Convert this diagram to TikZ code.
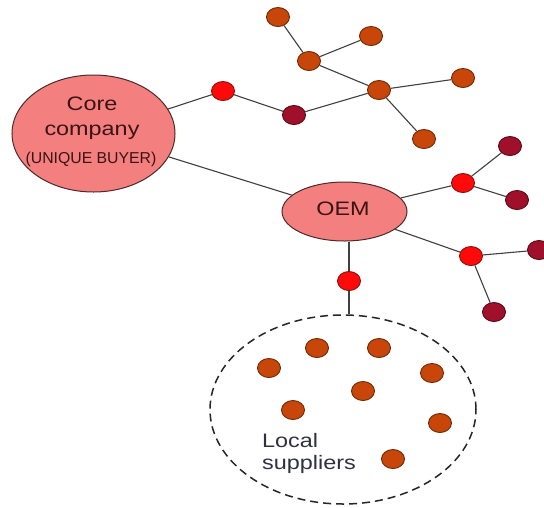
\documentclass[tikz,border=0pt]{standalone}
\usepackage{fontspec}
\setmainfont{Liberation Sans}
\newfontfamily\labfont{Liberation Sans}[FakeStretch=1.2]
\usetikzlibrary{shapes.geometric}
\definecolor{bigfill}{HTML}{F47F7F}
\definecolor{bigdraw}{HTML}{4A2A2A}
\definecolor{redfill}{HTML}{FF0A0A}
\definecolor{reddraw}{HTML}{8A1010}
\definecolor{darkfill}{HTML}{A0102A}
\definecolor{darkdraw}{HTML}{550A14}
\definecolor{orfill}{HTML}{C8460A}
\definecolor{ordraw}{HTML}{6A2A05}
\definecolor{linecol}{HTML}{404040}
\definecolor{txtcol}{HTML}{3A1414}
\definecolor{loccol}{HTML}{303040}
\tikzset{
  big/.style={ellipse, draw=bigdraw, fill=bigfill, line width=1pt, inner sep=0pt},
  dot/.style={ellipse, line width=0.9pt, inner sep=0pt, minimum width=23pt, minimum height=19pt},
  rdot/.style={dot, draw=reddraw, fill=redfill},
  ddot/.style={dot, draw=darkdraw, fill=darkfill},
  odot/.style={dot, draw=ordraw, fill=orfill},
  conn/.style={draw=linecol, line width=1.1pt},
  bigtxt/.style={font=\labfont\fontsize{19.5}{22}\selectfont, text=txtcol, inner sep=0pt},
  smalltxt/.style={font=\fontsize{15.8}{18}\selectfont, text=txtcol, inner sep=0pt},
  loctxt/.style={font=\labfont\fontsize{19.5}{22}\selectfont, text=loccol, inner sep=0pt, anchor=base west},
  group/.style={ellipse, draw=black!85, dashed, dash pattern=on 8pt off 5pt, line width=1.5pt, inner sep=0pt}
}
\begin{document}
\begin{tikzpicture}[x=1pt,y=-1pt]
\useasboundingbox (0,0) rectangle (544,507);
\fill[white] (0,0) rectangle (544,507);
% big ellipses
\node[big, minimum width=163pt, minimum height=117pt] (core) at (93.5,133.5) {};
\node[big, minimum width=125pt, minimum height=59pt] (oem) at (344.5,211.5) {};
\node[group, minimum width=266pt, minimum height=189pt] (local) at (343,409.5) {};
% texts
\node[bigtxt, anchor=base] (tcore) at (92,110) {Core};
\node[bigtxt, anchor=base] (tcomp) at (92,135) {company};
\node[smalltxt, anchor=base] (tbuyer) at (91,163) {(UNIQUE BUYER)};
\node[bigtxt, anchor=base] (toem) at (343,215) {OEM};
\node[loctxt] (tloc1) at (262,447) {Local};
\node[loctxt] (tloc2) at (262,469) {suppliers};
% top cluster
\node[rdot] (r1) at (223,91) {};
\node[ddot] (d1) at (294,115) {};
\node[odot] (h1) at (379,90) {};
\node[odot] (h2) at (309,61) {};
\node[odot] (o1) at (278,17) {};
\node[odot] (o2) at (371,36) {};
\node[odot] (o3) at (463,78) {};
\node[odot] (o4) at (424,139) {};
% right cluster
\node[rdot] (a) at (463,183) {};
\node[ddot] (da1) at (510,146) {};
\node[ddot] (da2) at (517,200) {};
\node[rdot] (b) at (471,256) {};
\node[ddot] (db1) at (539,250) {};
\node[ddot] (db2) at (494,312) {};
% link to local suppliers
\node[rdot] (l0) at (349,281) {};
% local suppliers
\node[odot] (s1) at (269,368) {};
\node[odot] (s2) at (317,348) {};
\node[odot] (s3) at (379,348) {};
\node[odot] (s4) at (432,373) {};
\node[odot] (s5) at (363,391) {};
\node[odot] (s6) at (293,410) {};
\node[odot] (s7) at (440,423) {};
\node[odot] (s8) at (393,459) {};
% connectors
\draw[conn] (core) -- (r1);
\draw[conn] (r1) -- (d1);
\draw[conn] (d1) -- (h1);
\draw[conn] (h1) -- (h2);
\draw[conn] (h2) -- (o1);
\draw[conn] (h2) -- (o2);
\draw[conn] (h1) -- (o3);
\draw[conn] (h1) -- (o4);
\draw[conn] (core) -- (oem);
\draw[conn] (oem) -- (a);
\draw[conn] (a) -- (da1);
\draw[conn] (a) -- (da2);
\draw[conn] (oem) -- (b);
\draw[conn] (b) -- (db1);
\draw[conn] (b) -- (db2);
\draw[conn] (oem.south -| l0) -- (l0);
\draw[conn] (l0) -- (l0 |- local.north);
\end{tikzpicture}
\end{document}
